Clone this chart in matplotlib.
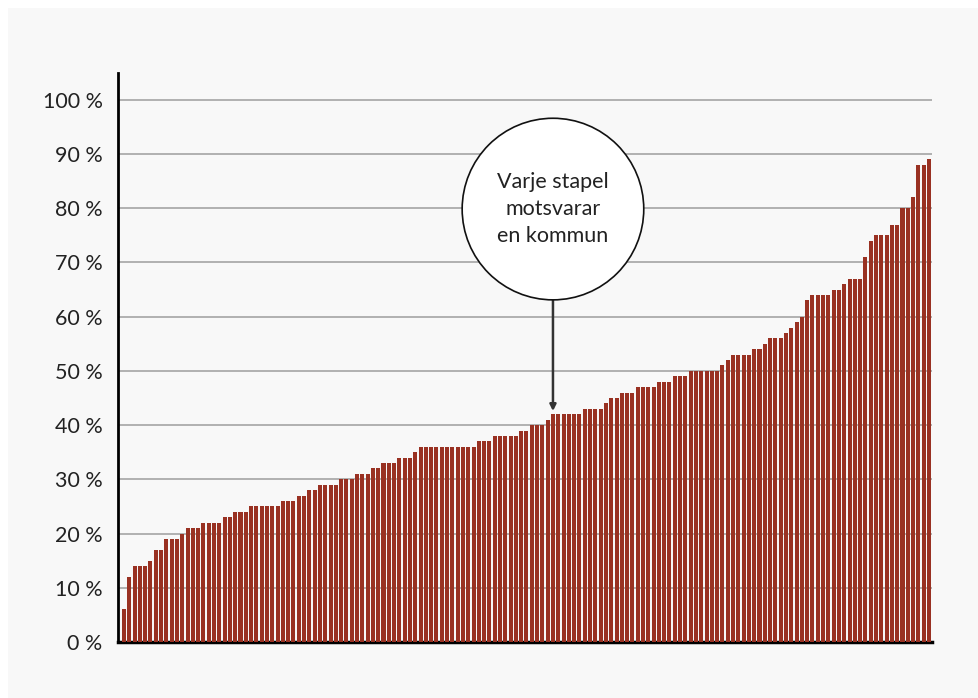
import matplotlib.pyplot as plt
import numpy as np
from matplotlib.patches import Circle, Rectangle
from matplotlib.transforms import ScaledTranslation

# share per kommun, sorted ascending (one bar per kommun)
values = ([6, 12, 14, 14, 14, 15, 17, 17, 19, 19, 19, 20, 21, 21, 21,
           22, 22, 22, 22, 23, 23, 24, 24, 24, 25, 25, 25, 25, 25, 25,
           26, 26, 26, 27, 27, 28, 28, 29, 29, 29, 29, 30, 30, 30,
           31, 31, 31, 32, 32, 33, 33, 33, 34, 34, 34, 35]
          + [36] * 11
          + [37, 37, 37, 38, 38, 38, 38, 38, 39, 39, 40, 40, 40, 41]
          + [42] * 6
          + [43, 43, 43, 43, 44, 45, 45, 46, 46, 46, 47, 47, 47, 47,
             48, 48, 48, 49, 49, 49, 50, 50, 50, 50, 50, 50, 51, 52,
             53, 53, 53, 53, 54, 54, 55, 56, 56, 56, 57, 58, 59, 60,
             63, 64, 64, 64, 64, 65, 65, 66, 67, 67, 67, 71, 74,
             75, 75, 75, 77, 77, 80, 80, 82, 88, 88, 89])
yticks = list(range(0, 101, 10))
ytick_labels = [f"{t} %" for t in yticks]
note_text = "Varje stapel\nmotsvarar\nen kommun"
note_bar = 81  # the bar the arrow points at

plt.rcParams['font.family'] = ['Lato', 'DejaVu Sans']

fig = plt.figure(figsize=(9.79, 6.98), dpi=100, facecolor='#f8f8f8')
# white margin on top and left
fig.patches.append(Rectangle((0, 0), 8 / 979, 1, transform=fig.transFigure,
                             facecolor='white', edgecolor='none', zorder=-1))
fig.patches.append(Rectangle((0, 1 - 8 / 698), 1, 8 / 698, transform=fig.transFigure,
                             facecolor='white', edgecolor='none', zorder=-1))

ax = fig.add_axes([118 / 979, 56 / 698, (932 - 118) / 979, (642 - 72.7) / 698])
ax.set_facecolor('none')

x = np.arange(len(values))
ax.bar(x, values, width=0.76, color='#993122', zorder=3)

ax.set_xlim(-1.13, len(values) - 0.43)
ax.set_ylim(0, 105)
ax.set_yticks(yticks)
ax.set_yticklabels(ytick_labels, fontsize=15.5, color='#222222')
ax.set_xticks([])
ax.tick_params(axis='y', length=0, pad=11)
ax.yaxis.grid(True, color='#a4a4a4', linewidth=1.2, zorder=1)
ax.set_axisbelow(True)

for s in ['top', 'right']:
    ax.spines[s].set_visible(False)
ax.spines['left'].set_linewidth(2)
ax.spines['bottom'].set_linewidth(2.5)
ax.spines['left'].set_color('black')
ax.spines['bottom'].set_color('black')

# note circle, placed in inches around a data point
cy = 79.85
circ = Circle((0, 0), radius=0.908, facecolor='white', edgecolor='#111111', linewidth=1.2,
              transform=fig.dpi_scale_trans + ScaledTranslation(note_bar, cy, ax.transData),
              zorder=5, clip_on=False)
ax.add_patch(circ)
ax.text(note_bar, cy, note_text, ha='center', va='center', fontsize=15.5,
        linespacing=1.45, color='#222222', zorder=6)

ax.annotate('', xy=(note_bar, 42.6), xytext=(note_bar, cy - 90.8 / 5.43),
            arrowprops=dict(arrowstyle='-|>', color='#333333', lw=1.8,
                            mutation_scale=9, shrinkA=0, shrinkB=0),
            zorder=4)

plt.savefig('out.png', dpi=100, facecolor=fig.get_facecolor())
